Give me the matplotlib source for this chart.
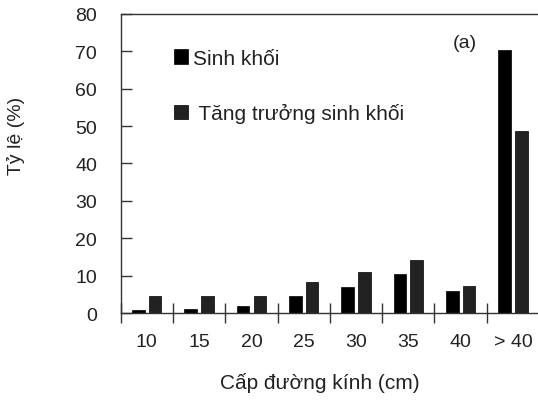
import numpy as np
import matplotlib.pyplot as plt
from matplotlib.ticker import FixedLocator

plt.rcParams['font.family'] = ['Liberation Sans', 'DejaVu Sans']

# diameter classes and shares (%)
classes = ['10', '15', '20', '25', '30', '35', '40', '> 40']
biomass = [0.9, 1.2, 2.0, 4.5, 7.0, 10.5, 5.8, 70.4]
growth = [4.5, 4.5, 4.5, 8.4, 10.9, 14.1, 7.3, 48.7]

fig = plt.figure(figsize=(5.38, 4.02), dpi=100)
ax = fig.add_axes([0.2243, 0.2189, 0.7777, 0.7438])

x = np.arange(len(classes))
w = 0.24
b1 = ax.bar(x - 0.16, biomass, w, color='#000000', edgecolor='#000000', linewidth=0.5)
b2 = ax.bar(x + 0.16, growth, w, color='#222222', edgecolor='#000000', linewidth=0.5)

ax.set_xlim(-0.5, len(classes) - 0.5)
ax.set_ylim(0, 80)
ax.set_yticks(np.arange(0, 81, 10))

ax.set_xticks(x)
ax.set_xticklabels(classes)
ax.xaxis.set_minor_locator(FixedLocator(np.arange(-0.5, len(classes), 1.0)))
ax.tick_params(axis='x', which='major', length=0, pad=14.5, labelsize=14, labelcolor='#222222')
ax.tick_params(axis='x', which='minor', direction='inout', length=15, width=1, color='#333333')
ax.tick_params(axis='y', direction='in', length=8, width=1, color='#333333',
               labelsize=14, labelcolor='#222222', pad=17)

for s in ax.spines.values():
    s.set_color('#333333')
    s.set_linewidth(1)

ax.set_xlabel('Cấp đường kính (cm)', fontsize=15, color='#222222', labelpad=16)
ax.xaxis.label.set_x(0.476)
ax.set_ylabel('Tỷ lệ (%)', fontsize=14, color='#222222')
ax.yaxis.set_label_coords(-0.228, 0.595)

ax.text(0.794, 0.906, '(a)', transform=ax.transAxes, fontsize=14, color='#222222', va='center')

ax.legend([b1, b2], ['Sinh khối', ' Tăng trưởng sinh khối'], loc='upper left',
          bbox_to_anchor=(0.103, 0.918), frameon=False, fontsize=15,
          handlelength=0.68, handleheight=0.68, handletextpad=0.2,
          labelspacing=1.7, borderpad=0, labelcolor='#222222')

plt.savefig('out.png', dpi=100)
